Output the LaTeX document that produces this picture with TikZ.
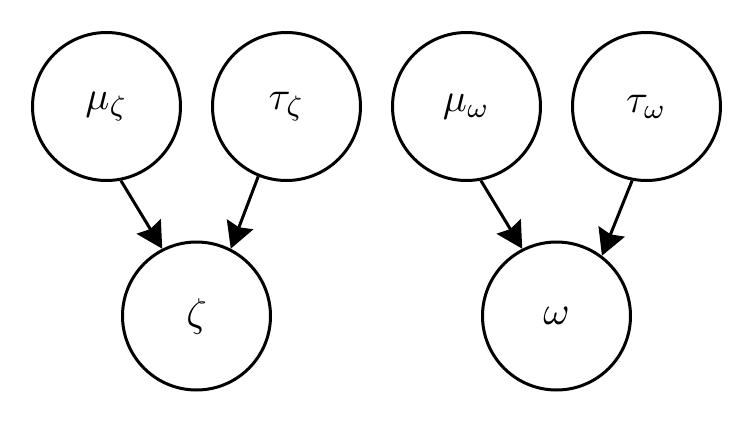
\documentclass[tikz,border=0pt]{standalone}
\usetikzlibrary{arrows.meta}
\newcommand{\varlbl}[1]{\scalebox{4}{$#1$}}
\tikzset{
  var/.style={circle, draw=black, line width=3pt, minimum size=148pt, inner sep=0pt},
  edge/.style={line width=3pt, -{Stealth[length=26pt, width=28pt, inset=3pt]}}
}
\begin{document}
\begin{tikzpicture}[x=1pt,y=-1pt]
\path[use as bounding box] (0,0) rectangle (756,426);
\node[var] (muz) at (106.5,106.5) {\varlbl{\mu_\zeta}};
\node[var] (tauz) at (286.5,106.5) {\varlbl{\tau_\zeta}};
\node[var] (muw) at (466.5,106.5) {\varlbl{\mu_\omega}};
\node[var] (tauw) at (646.5,106.5) {\varlbl{\tau_\omega}};
\node[var] (zeta) at (196.5,316) {\varlbl{\zeta}};
\node[var] (omega) at (556.5,316) {\varlbl{\omega}};
\draw[edge] (muz.-79) -- (zeta.117);
\draw[edge] (tauz.-112) -- (zeta.63);
\draw[edge] (muw.-79) -- (omega.117.5);
\draw[edge] (tauw.-101.5) -- (omega.53);
\end{tikzpicture}
\end{document}
